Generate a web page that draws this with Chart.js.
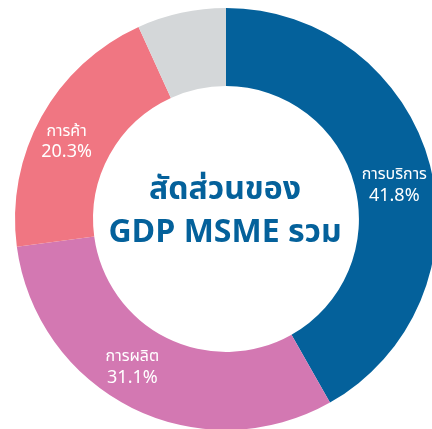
<!DOCTYPE html>
<html>
<head>
<meta charset="utf-8">
<script src="https://cdn.jsdelivr.net/npm/chart.js@4.4.0/dist/chart.umd.min.js"></script>
<style>
  html, body { margin: 0; padding: 0; background: #ffffff; overflow: hidden; width: 432px; height: 429px; }
  #wrap { position: absolute; left: 0; top: 0; width: 452px; height: 438px; }
</style>
</head>
<body>
<div id="wrap"><canvas id="c" width="452" height="438"></canvas></div>
<script>
const categories = ['การบริการ', 'การผลิต', 'การค้า', 'อื่นๆ'];
const shares = [41.8, 31.1, 20.3, 6.8];
const showLabel = [true, true, true, false];
const centerLines = ['สัดส่วนของ', 'GDP MSME รวม'];
const colors = ['#04619B', '#D378B2', '#F07682', '#D4D7D9'];

const FONT = '"Noto Sans Thai", "Noto Sans", "DejaVu Sans", sans-serif';
// small per-slice nudges for label placement (styling only)
const labelNudge = [[2, 12], [-17, -4], [-9, 8], [0, 0]];

const labelPlugin = {
  id: 'sliceLabels',
  afterDatasetsDraw(chart) {
    const ctx = chart.ctx;
    const meta = chart.getDatasetMeta(0);
    ctx.save();
    ctx.textAlign = 'center';
    ctx.textBaseline = 'middle';
    ctx.fillStyle = '#ffffff';
    meta.data.forEach((arc, i) => {
      if (!showLabel[i]) return;
      const p = arc.tooltipPosition();
      const x = p.x + labelNudge[i][0];
      const y = p.y + labelNudge[i][1];
      ctx.font = '16px ' + FONT;
      ctx.fillText(categories[i], x, y - 11);
      ctx.font = '18px ' + FONT;
      ctx.fillText(shares[i].toFixed(1) + '%', x, y + 10);
    });
    // center title
    const a = meta.data[0];
    ctx.fillStyle = '#04619B';
    ctx.font = 'bold 32px ' + FONT;
    ctx.fillText(centerLines[0], a.x - 1, a.y - 26);
    ctx.fillText(centerLines[1], a.x - 1, a.y + 17);
    ctx.restore();
  }
};

new Chart(document.getElementById('c'), {
  type: 'doughnut',
  data: {
    labels: categories,
    datasets: [{
      data: shares,
      backgroundColor: colors,
      borderWidth: 0,
      hoverOffset: 0
    }]
  },
  options: {
    responsive: false,
    animation: false,
    cutout: '63%',
    layout: { padding: 8 },
    plugins: {
      legend: { display: false },
      tooltip: { enabled: false }
    }
  },
  plugins: [labelPlugin]
});
</script>
</body>
</html>
